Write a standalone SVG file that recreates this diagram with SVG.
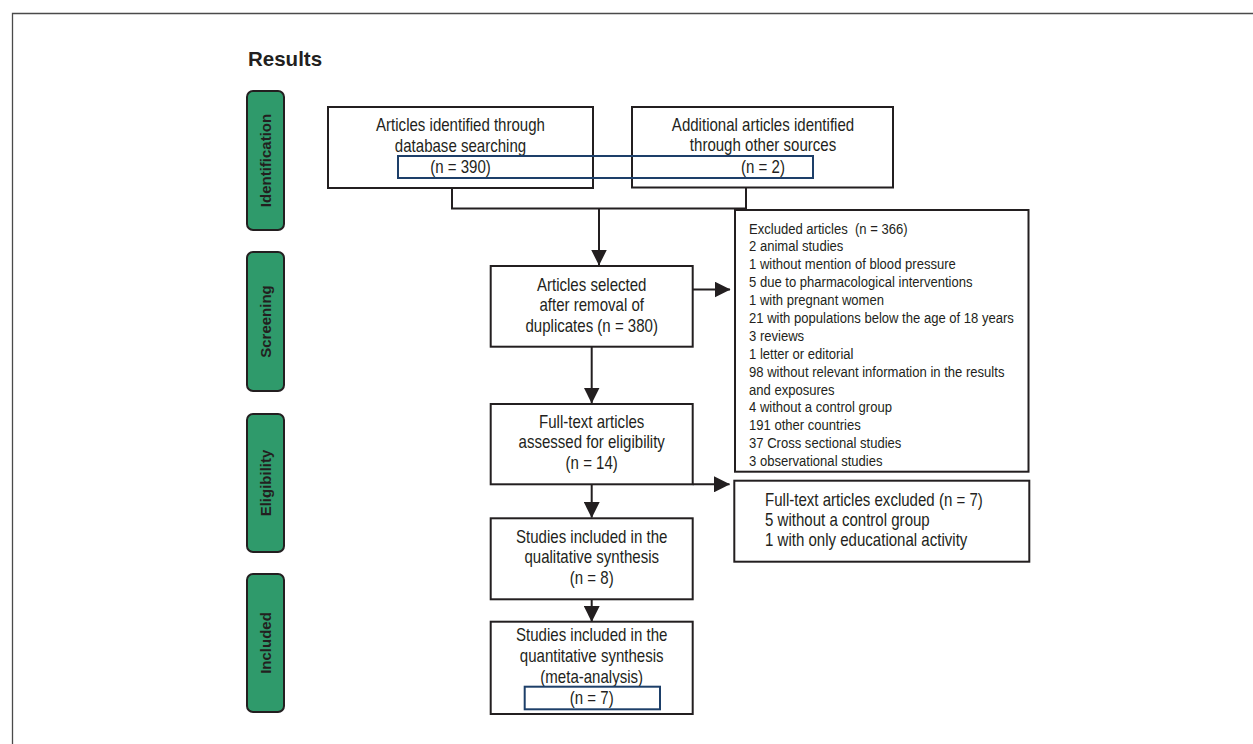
<svg xmlns="http://www.w3.org/2000/svg" width="1253" height="744" viewBox="0 0 1253 744">
<defs>
<style>
.frame{fill:none;stroke:#4a4a4a;stroke-width:1.3}
.box{fill:#fff;stroke:#231f20;stroke-width:2}
.hl{fill:none;stroke:#1d3f69;stroke-width:2}
.phase{fill:#2f9a6b;stroke:#231f20;stroke-width:2}
.ptxt{font-family:"Liberation Sans",Arial,sans-serif;font-size:15px;font-weight:bold;fill:#231f20}
.t{font-family:"Liberation Sans",Arial,sans-serif;font-size:17.5px;fill:#231f20}
.s{font-family:"Liberation Sans",Arial,sans-serif;font-size:15.2px;fill:#231f20}
.title{font-family:"Liberation Sans",Arial,sans-serif;font-size:20.5px;font-weight:bold;fill:#231f20}
.c{fill:none;stroke:#231f20;stroke-width:2}
</style>
<marker id="ah" markerUnits="userSpaceOnUse" markerWidth="16" markerHeight="16" viewBox="0 0 16 16" refX="15.5" refY="8" orient="auto">
<path d="M0,0 L16,8 L0,16 Z" fill="#231f20"/>
</marker>
</defs>
<rect width="1253" height="744" fill="#fff"/>
<path class="frame" d="M12.5,744 V13.5 H1253"/>
<text class="title" x="248" y="66">Results</text>

<g id="phase-identification"><rect class="phase" x="247" y="91" width="37" height="139" rx="6"/><text class="ptxt" transform="translate(271 160.5) rotate(-90)" text-anchor="middle">Identification</text></g>
<g id="phase-screening"><rect class="phase" x="247" y="252" width="37" height="139" rx="6"/><text class="ptxt" transform="translate(271 321.5) rotate(-90)" text-anchor="middle">Screening</text></g>
<g id="phase-eligibility"><rect class="phase" x="247" y="414" width="37" height="138" rx="6"/><text class="ptxt" transform="translate(271 483) rotate(-90)" text-anchor="middle">Eligibility</text></g>
<g id="phase-included"><rect class="phase" x="247" y="574" width="37" height="138" rx="6"/><text class="ptxt" transform="translate(271 643) rotate(-90)" text-anchor="middle">Included</text></g>

<g id="connectors">
<path class="c" d="M452,188 V208.5 H746 V187"/>
<path class="c" d="M599,208.5 V265" marker-end="url(#ah)"/>
<path class="c" d="M692.7,289.5 H730" marker-end="url(#ah)"/>
<path class="c" d="M591.7,346.7 V403" marker-end="url(#ah)"/>
<path class="c" d="M692.7,484.3 H729.5" marker-end="url(#ah)"/>
<path class="c" d="M591.7,484.3 V517.5" marker-end="url(#ah)"/>
<path class="c" d="M591.7,599.3 V621.5" marker-end="url(#ah)"/>
</g>

<g id="node-database">
<rect class="box" x="328" y="107" width="265" height="81"/>
<text class="t" transform="translate(460.5 131) scale(0.86 1)" text-anchor="middle"><tspan x="0">Articles identified through</tspan><tspan x="0" dy="21">database searching</tspan><tspan x="0" dy="21">(n = 390)</tspan></text>
</g>
<g id="node-other">
<rect class="box" x="632" y="107" width="261" height="80.5"/>
<text class="t" transform="translate(763 130.5) scale(0.86 1)" text-anchor="middle"><tspan x="0">Additional articles identified</tspan><tspan x="0" dy="21">through other sources</tspan><tspan x="0" dy="22">(n = 2)</tspan></text>
</g>
<rect id="highlight-top" class="hl" x="398" y="156" width="415" height="22"/>

<g id="node-selected">
<rect class="box" x="490.7" y="266" width="202" height="80.7"/>
<text class="t" transform="translate(591.7 290.7) scale(0.86 1)" text-anchor="middle"><tspan x="0">Articles selected</tspan><tspan x="0" dy="20.5">after removal of</tspan><tspan x="0" dy="20.5">duplicates (n = 380)</tspan></text>
</g>

<g id="node-excluded">
<rect class="box" x="735" y="210" width="293.5" height="261.7"/>
<text class="s" transform="translate(749 233.5) scale(0.86 1)"><tspan x="0" xml:space="preserve">Excluded articles  (n = 366)</tspan><tspan x="0" dy="17.9">2 animal studies</tspan><tspan x="0" dy="17.9">1 without mention of blood pressure</tspan><tspan x="0" dy="17.9">5 due to pharmacological interventions</tspan><tspan x="0" dy="17.9">1 with pregnant women</tspan><tspan x="0" dy="17.9">21 with populations below the age of 18 years</tspan><tspan x="0" dy="17.9">3 reviews</tspan><tspan x="0" dy="17.9">1 letter or editorial</tspan><tspan x="0" dy="17.9">98 without relevant information in the results</tspan><tspan x="0" dy="17.9">and exposures</tspan><tspan x="0" dy="17.9">4 without a control group</tspan><tspan x="0" dy="17.9">191 other countries</tspan><tspan x="0" dy="17.9">37 Cross sectional studies</tspan><tspan x="0" dy="17.9">3 observational studies</tspan></text>
</g>

<g id="node-fulltext">
<rect class="box" x="490.7" y="404" width="202" height="80.3"/>
<text class="t" transform="translate(591.7 427.7) scale(0.86 1)" text-anchor="middle"><tspan x="0">Full-text articles</tspan><tspan x="0" dy="20.5">assessed for eligibility</tspan><tspan x="0" dy="20.5">(n = 14)</tspan></text>
</g>

<g id="node-fulltext-excluded">
<rect class="box" x="734.3" y="480.7" width="295" height="81"/>
<text class="t" transform="translate(765 506) scale(0.86 1)"><tspan x="0">Full-text articles excluded (n = 7)</tspan><tspan x="0" dy="20">5 without a control group</tspan><tspan x="0" dy="20">1 with only educational activity</tspan></text>
</g>

<g id="node-qualitative">
<rect class="box" x="490.7" y="518.3" width="202" height="81"/>
<text class="t" transform="translate(591.7 542.7) scale(0.86 1)" text-anchor="middle"><tspan x="0">Studies included in the</tspan><tspan x="0" dy="20.6">qualitative synthesis</tspan><tspan x="0" dy="20.6">(n = 8)</tspan></text>
</g>

<g id="node-quantitative">
<rect class="box" x="490.7" y="621.7" width="202" height="92.3"/>
<text class="t" transform="translate(591.7 640.7) scale(0.86 1)" text-anchor="middle"><tspan x="0">Studies included in the</tspan><tspan x="0" dy="21">quantitative synthesis</tspan><tspan x="0" dy="21">(meta-analysis)</tspan><tspan x="0" dy="21.6">(n = 7)</tspan></text>
<rect class="hl" x="524.7" y="686.7" width="135.3" height="22.6"/>
</g>
</svg>
